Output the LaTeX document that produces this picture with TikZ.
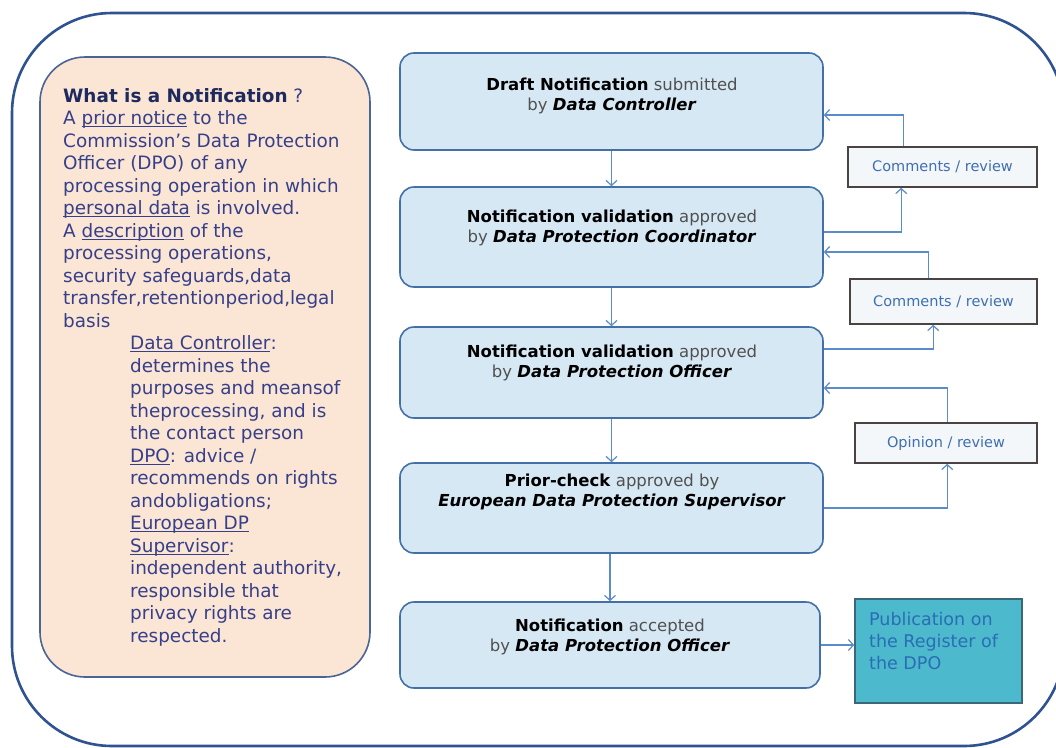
\documentclass[tikz,border=0pt]{standalone}
\usepackage{fontspec}
\setmainfont{DejaVu Sans}
\usetikzlibrary{arrows.meta,calc}
\definecolor{frameblue}{HTML}{2F5290}
\definecolor{peach}{HTML}{FBE5D4}
\definecolor{infoborder}{HTML}{4A6496}
\definecolor{infotext}{HTML}{36408A}
\definecolor{infotitle}{HTML}{1E2A5E}
\definecolor{flowfill}{HTML}{D6E8F4}
\definecolor{flowborder}{HTML}{4470A8}
\definecolor{arrowblue}{HTML}{5B8BC9}
\definecolor{sideborder}{HTML}{4B4343}
\definecolor{sidefill}{HTML}{F4F7FA}
\definecolor{sidetext}{HTML}{3E6FB0}
\definecolor{pubfill}{HTML}{4DB9CD}
\definecolor{pubborder}{HTML}{3A6878}
\definecolor{pubtext}{HTML}{2A6DB5}
\definecolor{normtext}{HTML}{505050}
\newcommand{\undl}[1]{\setbox0\hbox{#1}\rlap{\rule[-2.6pt]{\wd0}{0.9pt}}\box0\relax}
\newcommand{\bi}[1]{\textcolor{black}{\textbf{\textit{#1}}}}
\newcommand{\bd}[1]{\textcolor{black}{\textbf{#1}}}
\begin{document}
\begin{tikzpicture}[x=1pt,y=-1pt,
  outerframe/.style={draw=frameblue, line width=2.6pt, rounded corners=100pt},
  infobox/.style={draw=infoborder, fill=peach, line width=1.6pt, rounded corners=45pt, rectangle, inner sep=0pt},
  infotxt/.style={anchor=base west, inner sep=0pt, text=infotext, font=\fontsize{18.4}{22.5}\selectfont},
  flowbox/.style={draw=flowborder, fill=flowfill, line width=1.6pt, rounded corners=14pt, rectangle, inner sep=0pt},
  flowtext/.style={align=center, inner sep=0pt, text=normtext, font=\fontsize{16.5}{20}\selectfont},
  sidebox/.style={draw=sideborder, fill=sidefill, line width=1.6pt, rectangle, inner sep=0pt, text=sidetext, font=\fontsize{14.5}{17}\selectfont},
  pubbox/.style={draw=pubborder, fill=pubfill, line width=1.6pt, rectangle, inner sep=0pt},
  pubtxt/.style={anchor=north west, align=left, inner sep=0pt, text=pubtext, font=\fontsize{17.5}{22}\selectfont},
  conn/.style={draw=arrowblue, line width=1.2pt, -{Straight Barb[length=5pt,width=11pt]}}
]
\clip (0,0) rectangle (1056,747);
\fill[white] (0,0) rectangle (1056,747);
\draw[outerframe] (12,13) rectangle (1064,746);

% left information box
\node[infobox, minimum width=330pt, minimum height=620pt] (info) at (205,367) {};
\node[infotxt] (infoa) at (63,102) {\begin{tabular}[t]{@{}l@{}}
\textcolor{infotitle}{\textbf{What is a Notification}} ?\\
A \undl{prior notice} to the\\
Commission's Data Protection\\
Officer (DPO) of any\\
processing operation in which\\
\undl{personal data} is involved.\\
A \undl{description} of the\\
processing operations,\\
security safeguards,data\\
transfer,retentionperiod,legal\\
basis
\end{tabular}};
\node[infotxt] (infob) at (130,349.5) {\begin{tabular}[t]{@{}l@{}}
\undl{Data Controller}:\\
determines the\\
purposes and meansof\\
theprocessing, and is\\
the contact person\\
\undl{DPO}: advice /\\
recommends on rights\\
andobligations;\\
\undl{European DP}\\
\undl{Supervisor}:\\
independent authority,\\
responsible that\\
privacy rights are\\
respected.
\end{tabular}};

% flow boxes
\node[flowbox, minimum width=423pt, minimum height=97pt] (b1) at (611.5,101.5) {};
\node[flowbox, minimum width=423pt, minimum height=100pt] (b2) at (611.5,237) {};
\node[flowbox, minimum width=423pt, minimum height=91pt] (b3) at (611.5,372.5) {};
\node[flowbox, minimum width=423pt, minimum height=90pt] (b4) at (611.5,508) {};
\node[flowbox, minimum width=420pt, minimum height=86pt] (b5) at (610,645) {};

\node[flowtext] (t1) at (612,95.5) {\bd{Draft Notification} submitted\\ by \bi{Data Controller}};
\node[flowtext] (t2) at (612,228) {\bd{Notification validation} approved\\ by \bi{Data Protection Coordinator}};
\node[flowtext] (t3) at (612,363) {\bd{Notification validation} approved\\ by \bi{Data Protection Officer}};
\node[flowtext] (t4) at (612,491.5) {\bd{Prior-check} approved by\\ \bi{European Data Protection Supervisor}};
\node[flowtext] (t5) at (610,636.5) {\bd{Notification} accepted\\ by \bi{Data Protection Officer}};

% side boxes
\node[sidebox, minimum width=189pt, minimum height=40pt] (c1) at (942.5,167) {Comments / review};
\node[sidebox, minimum width=187pt, minimum height=45pt] (c2) at (943.5,301.5) {Comments / review};
\node[sidebox, minimum width=182pt, minimum height=40pt] (op) at (946,443) {Opinion / review};

% publication box
\node[pubbox, minimum width=167pt, minimum height=104pt] (pub) at (938.5,651) {};
\node[pubtxt] (pubt) at (869,612) {Publication on\\the Register of\\the DPO};

% vertical flow
\draw[conn] (b1.south) -- (b1.south |- b2.north);
\draw[conn] (b2.south) -- (b2.south |- b3.north);
\draw[conn] (b3.south) -- (b3.south |- b4.north);
\draw[conn] (b5.north |- b4.south) -- (b5.north);

% feedback loops
\draw[conn] ([xshift=56pt]c1.north west) |- ([yshift=-13.5pt]b1.east);
\draw[conn] ([yshift=5pt]b2.east) -| ([xshift=54pt]c1.south west);
\draw[conn] ([xshift=79pt]c2.north west) |- ([yshift=-15pt]b2.east);
\draw[conn] ([yshift=23.5pt]b3.east) -| ([xshift=84pt]c2.south west);
\draw[conn] ([xshift=93pt]op.north west) |- ([yshift=-15.5pt]b3.east);
\draw[conn] (b4.east) -| ([xshift=93pt]op.south west);
\draw[conn] (b5.east) -- (b5.east -| pub.west);
\end{tikzpicture}
\end{document}
